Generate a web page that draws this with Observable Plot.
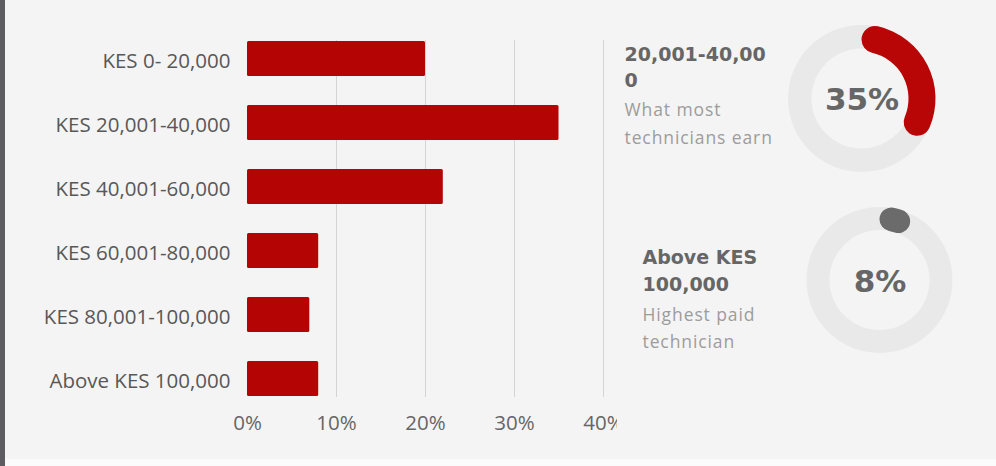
<!DOCTYPE html>
<html><head><meta charset="utf-8">
<script src="https://cdn.jsdelivr.net/npm/d3@7"></script>
<script src="https://cdn.jsdelivr.net/npm/@observablehq/plot@0.6"></script>
<style>
body{margin:0;background:#fafafa;}
#wrap{position:relative;width:996px;height:466px;background:#f4f4f4;overflow:hidden;font-family:"Open Sans",sans-serif;}
#wrap svg{position:absolute;top:0;}
#bars{left:0;}
#panel{left:617px;}
.strip{position:absolute;left:0;top:0;width:5px;height:466px;background:#5d5d61;}
.foot{position:absolute;left:5px;top:459px;width:991px;height:7px;background:#fbfbfb;}
g[fill="#9c9c9c"] text{letter-spacing:0.9px;}
</style></head>
<body><div id="wrap"></div>
<script>
// ---- data ----
const categories = ["KES 0- 20,000", "KES 20,001-40,000", "KES 40,001-60,000", "KES 60,001-80,000", "KES 80,001-100,000", "Above KES 100,000"];
const shares = [20, 35, 22, 8, 7, 8];
const xTicks = [0, 10, 20, 30, 40];
const highlightTitles = [["20,001-40,00", "0"], ["Above KES", "100,000"]];
const highlightNotes = [["What most", "technicians earn"], ["Highest paid", "technician"]];
const highlightValues = [35, 8];

// ---- layout (pixels, panel coordinates) ----
const layout = [
  {cx: 244.5, cy: 98.5, textX: 7, titleBase: [60, 86], noteBase: [115, 143], color: "#b80606", inner: 47, outer: 74, track: [50, 73.5]},
  {cx: 262.5, cy: 280, textX: 25, titleBase: [263, 290], noteBase: [320, 347], color: "#6b6b6b", inner: 50, outer: 73.5, track: [50, 73]}
];
const titleSize = 19, noteSize = 17.5, centerSize = 31;

const wrap = document.getElementById("wrap");

// ---- bar chart ----
const bars = categories.map((c, i) => ({category: c, share: shares[i]}));
const barChart = Plot.plot({
  width: 617, height: 466,
  marginLeft: 247, marginRight: 14, marginTop: 40, marginBottom: 69,
  style: {background: "transparent", fontFamily: "Open Sans", fontSize: "20.5px", overflow: "hidden"},
  x: {domain: [0, 40]},
  y: {domain: categories, paddingInner: 0.457, paddingOuter: 0},
  marks: [
    Plot.gridX({ticks: [10, 20, 30, 40], stroke: "#d4d4d4", strokeOpacity: 1}),
    Plot.barX(bars, {x: "share", y: "category", fill: "#b40404", rx: 1.5}),
    Plot.axisX({ticks: xTicks, tickSize: 0, tickPadding: 18, tickFormat: d => d + "%", color: "#666", label: null}),
    Plot.axisY({tickSize: 0, tickPadding: 17, label: null, color: "#585858", dy: 2})
  ]
});
barChart.id = "bars";
wrap.appendChild(barChart);

// ---- highlight donuts ----
const angle = d3.scaleLinear([0, 100], [0, 2 * Math.PI]);
const donutMark = (index, scales) => {
  const g = d3.create("svg:g");
  highlightValues.forEach((v, i) => {
    const L = layout[i];
    const cx = scales.x(L.cx), cy = scales.y(L.cy);
    const gg = g.append("g").attr("transform", `translate(${cx},${cy})`);
    gg.append("path")
      .attr("d", d3.arc().innerRadius(L.track[0]).outerRadius(L.track[1])({startAngle: 0, endAngle: 2 * Math.PI}))
      .attr("fill", "#e9e9e9");
    gg.append("path")
      .attr("d", d3.arc().innerRadius(L.inner).outerRadius(L.outer).cornerRadius((L.outer - L.inner) / 2)({startAngle: 0, endAngle: angle(v)}))
      .attr("fill", L.color);
  });
  return g.node();
};

const titleRows = [], noteRows = [], centerRows = [];
highlightValues.forEach((v, i) => {
  const L = layout[i];
  highlightTitles[i].forEach((t, j) => titleRows.push({x: L.textX, y: L.titleBase[j] - 0.32 * titleSize, t}));
  highlightNotes[i].forEach((t, j) => noteRows.push({x: L.textX, y: L.noteBase[j] - 0.32 * noteSize, t}));
  centerRows.push({x: L.cx, y: L.cy + 1.5, t: v + "%"});
});

const panel = Plot.plot({
  width: 379, height: 458, margin: 0,
  x: {type: "identity", axis: null}, y: {type: "identity", axis: null},
  style: {background: "transparent"},
  marks: [
    donutMark,
    Plot.text(titleRows, {x: "x", y: "y", text: "t", textAnchor: "start", fontFamily: "DejaVu Sans", fontWeight: "bold", fontSize: titleSize, fill: "#666666"}),
    Plot.text(noteRows, {x: "x", y: "y", text: "t", textAnchor: "start", fontFamily: "Open Sans", fontSize: noteSize, fill: "#9c9c9c"}),
    Plot.text(centerRows, {x: "x", y: "y", text: "t", textAnchor: "middle", fontFamily: "DejaVu Sans", fontWeight: "bold", fontSize: centerSize, fill: "#666666"})
  ]
});
panel.id = "panel";
wrap.appendChild(panel);

const strip = document.createElement("div"); strip.className = "strip"; wrap.appendChild(strip);
const foot = document.createElement("div"); foot.className = "foot"; wrap.appendChild(foot);
</script>
</body></html>
